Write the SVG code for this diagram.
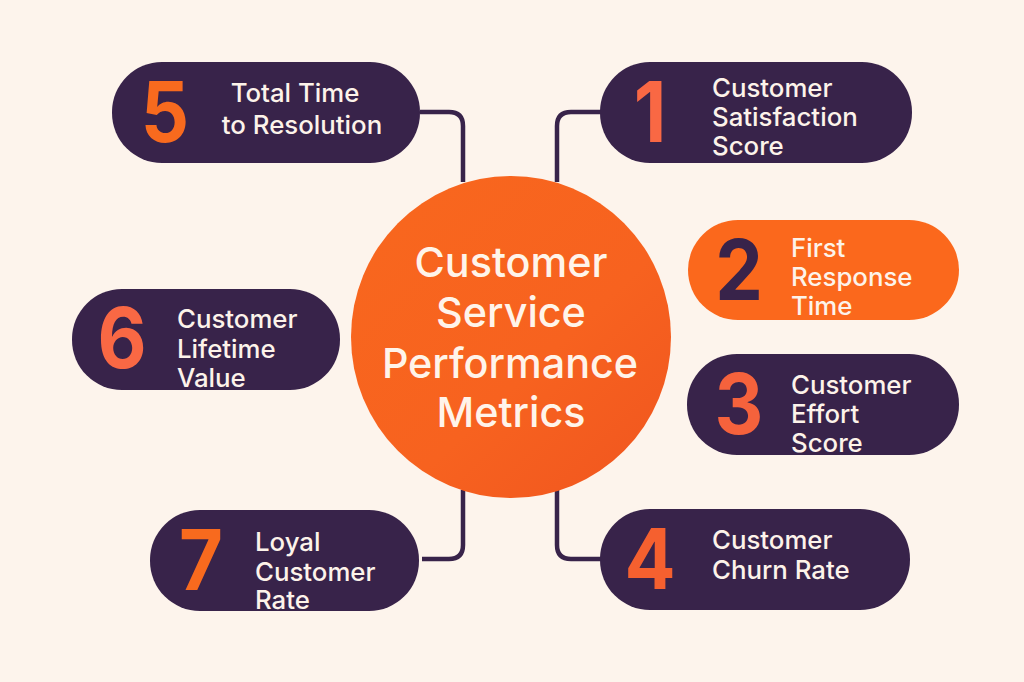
<svg xmlns="http://www.w3.org/2000/svg" width="1024" height="682" viewBox="0 0 1024 682">
<style>
.pill{fill:#38234a}
.pill.o{fill:#fb681c}
.lb{font:500 25.8px Inter,"Liberation Sans",sans-serif;fill:#fdf3ea}
.num{font:700 84px Inter,"Liberation Sans",sans-serif;text-anchor:middle}
.ct{font:500 41.3px Inter,"Liberation Sans",sans-serif;fill:#fff4ea;text-anchor:middle}
.c{fill:none;stroke:#38234a;stroke-width:4.5}
</style>
<defs><linearGradient id="g" x1="0.2" y1="0.1" x2="0.9" y2="0.85"><stop offset="0" stop-color="#f8661e"/><stop offset="0.6" stop-color="#f7621f"/><stop offset="1" stop-color="#f2591f"/></linearGradient></defs>
<rect width="1024" height="682" fill="#fdf4ec"/>
<g id="connectors">
<path class="c" d="M420 112H449Q463 112 463 126V182"/>
<path class="c" d="M602 112H571Q557 112 557 126V182"/>
<path class="c" d="M557 490V545Q557 559 571 559H602"/>
<path class="c" d="M422 559H449Q463 559 463 545V490"/>
</g>
<g id="center"><ellipse cx="511" cy="337" rx="160" ry="161" fill="url(#g)"/>
<text class="ct" x="511" y="277">Customer</text><text class="ct" x="511" y="327">Service</text><text class="ct" x="510" y="378">Performance</text><text class="ct" x="511" y="427">Metrics</text></g>
<g id="node1"><rect class="pill" x="600" y="62" width="312" height="101" rx="50"/><text class="num" transform="translate(650 142) scale(.9 1)" fill="#f96844">1</text><text class="lb" x="712" y="97">Customer</text><text class="lb" x="712" y="126">Satisfaction</text><text class="lb" x="712" y="155">Score</text></g>
<g id="node2"><rect class="pill o" x="688" y="220" width="271" height="100" rx="50"/><text class="num" transform="translate(739 300) scale(.9 1)" fill="#38234a">2</text><text class="lb" x="791" y="257">First</text><text class="lb" x="791" y="286">Response</text><text class="lb" x="791" y="315">Time</text></g>
<g id="node3"><rect class="pill" x="687" y="354" width="272" height="101" rx="50"/><text class="num" transform="translate(739 434) scale(.9 1)" fill="#f5623c">3</text><text class="lb" x="791" y="394">Customer</text><text class="lb" x="791" y="423">Effort</text><text class="lb" x="791" y="452">Score</text></g>
<g id="node4"><rect class="pill" x="600" y="509" width="310" height="101" rx="50"/><text class="num" transform="translate(650 589) scale(.9 1)" fill="#f5602f">4</text><text class="lb" x="712" y="549">Customer</text><text class="lb" x="712" y="579">Churn Rate</text></g>
<g id="node5"><rect class="pill" x="112" y="62" width="308" height="101" rx="50"/><text class="num" transform="translate(165 142) scale(.9 1)" fill="#f86a1e">5</text><text class="lb" x="295" y="102" text-anchor="middle">Total Time</text><text class="lb" x="302" y="134" text-anchor="middle">to Resolution</text></g>
<g id="node6"><rect class="pill" x="72" y="289" width="268" height="101" rx="50"/><text class="num" transform="translate(122 368) scale(.9 1)" fill="#f96844">6</text><text class="lb" x="177" y="328">Customer</text><text class="lb" x="177" y="358">Lifetime</text><text class="lb" x="177" y="387">Value</text></g>
<g id="node7"><rect class="pill" x="150" y="510" width="269" height="101" rx="50"/><text class="num" transform="translate(201 590) scale(.9 1)" fill="#f86a1e">7</text><text class="lb" x="255" y="551">Loyal</text><text class="lb" x="255" y="581">Customer</text><text class="lb" x="255" y="609">Rate</text></g>
</svg>
